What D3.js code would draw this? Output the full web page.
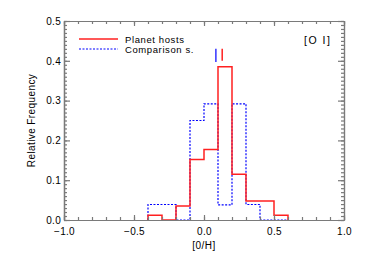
<!DOCTYPE html>
<html>
<head>
<meta charset="utf-8">
<script src="https://cdn.jsdelivr.net/npm/d3@7"></script>
<style>
  body { margin: 0; background: #fff; }
  text { font-family: "Liberation Sans", Arial, sans-serif; fill: #000; }
</style>
</head>
<body>
<div class="graph"></div>
<script>
// histogram bin edges ([O/H])
var binEdges = [-0.4, -0.3, -0.2, -0.1, 0.0, 0.1, 0.2, 0.3, 0.4, 0.5, 0.6];
// relative frequency per bin
var hostFreq = [0.012, 0.0, 0.035, 0.152, 0.177, 0.385, 0.115, 0.048, 0.048, 0.012];
var compFreq = [0.039, 0.039, 0.0, 0.25, 0.292, 0.038, 0.292, 0.039, 0.0, 0.0];
// mean markers
var hostMean = 0.13;
var compMean = 0.085;
var seriesNames = ["Planet hosts", "Comparison s."];
var xTicks = [-1.0, -0.5, 0.0, 0.5, 1.0];
var yTicks = [0.0, 0.1, 0.2, 0.3, 0.4, 0.5];

// Configuration
var hostColour = "#ff2020";
var compColour = "#0000ff";
var axisColour = "#7a7a7a";

var width = 365, height = 261;
var margin = {left: 64, right: 21, top: 21, bottom: 41};

var x = d3.scaleLinear().domain([-1, 1]).range([margin.left, width - margin.right]);
var y = d3.scaleLinear().domain([0, 0.5]).range([height - margin.bottom, margin.top]);

var svg = d3.select(".graph").append("svg")
    .attr("width", width)
    .attr("height", height);

// step line through the bins, dropping to zero at both ends
function stepPoints(freq) {
    var pts = [[binEdges[0], 0]];
    freq.forEach(function(f, i) {
        pts.push([binEdges[i], f]);
        pts.push([binEdges[i + 1], f]);
    });
    pts.push([binEdges[binEdges.length - 1], 0]);
    return pts;
}

var line = d3.line()
    .x(function(d) { return x(d[0]); })
    .y(function(d) { return y(d[1]); });

svg.append("path")
    .attr("d", line(stepPoints(compFreq)))
    .attr("fill", "none")
    .attr("stroke", compColour)
    .attr("stroke-width", 1.2)
    .attr("stroke-dasharray", "2,1.5");

svg.append("path")
    .attr("d", line(stepPoints(hostFreq)))
    .attr("fill", "none")
    .attr("stroke", hostColour)
    .attr("stroke-width", 1.5);

// mean markers
svg.append("line")
    .attr("x1", x(compMean)).attr("x2", x(compMean))
    .attr("y1", y(0.43)).attr("y2", y(0.397))
    .attr("stroke", compColour).attr("stroke-width", 1.2);
svg.append("line")
    .attr("x1", x(hostMean)).attr("x2", x(hostMean))
    .attr("y1", y(0.43)).attr("y2", y(0.4))
    .attr("stroke", hostColour).attr("stroke-width", 1.5);

// axes: bottom/top and left/right with minor ticks
var xMinor = d3.range(-10, 11).map(function(d) { return d / 10; });
var yMinor = d3.range(0, 51).map(function(d) { return d / 100; });

function axisGroup(axis, tx, ty) {
    var g = svg.append("g")
        .attr("transform", "translate(" + tx + "," + ty + ")")
        .call(axis);
    g.selectAll("path, line").attr("stroke", axisColour).attr("stroke-width", 1.2);
    g.selectAll("text").attr("fill", "#000").style("font-size", "10px")
        .style("letter-spacing", "0.3px")
        .style("font-family", "Liberation Sans, Arial, sans-serif");
    return g;
}

var y0 = y(0), yTop = y(0.5), xL = x(-1), xR = x(1);

axisGroup(d3.axisTop(x).tickValues(xMinor).tickSize(3).tickFormat("").tickSizeOuter(0), 0, y0);
axisGroup(d3.axisTop(x).tickValues(xTicks).tickSize(5).tickFormat(d3.format(".1f")).tickSizeOuter(0), 0, y0)
    .selectAll("text").attr("y", 15).text(function(d) { return d3.format(".1f")(d).replace("-", "\u2212"); });
axisGroup(d3.axisBottom(x).tickValues(xMinor).tickSize(3).tickFormat("").tickSizeOuter(0), 0, yTop);
axisGroup(d3.axisBottom(x).tickValues(xTicks).tickSize(5).tickFormat("").tickSizeOuter(0), 0, yTop);

axisGroup(d3.axisRight(y).tickValues(yMinor).tickSize(3).tickFormat("").tickSizeOuter(0), xL, 0);
axisGroup(d3.axisRight(y).tickValues(yTicks).tickSize(6).tickFormat("").tickSizeOuter(0), xL, 0);
axisGroup(d3.axisLeft(y).tickValues(yTicks).tickSize(0).tickPadding(3).tickFormat(d3.format(".1f")), xL, 0);
axisGroup(d3.axisLeft(y).tickValues(yMinor).tickSize(3).tickFormat("").tickSizeOuter(0), xR, 0);
axisGroup(d3.axisLeft(y).tickValues(yTicks).tickSize(6).tickFormat("").tickSizeOuter(0), xR, 0);

// axis titles
svg.append("text")
    .attr("x", (xL + xR) / 2).attr("y", 249)
    .attr("text-anchor", "middle")
    .style("font-size", "10px")
    .style("letter-spacing", "0.5px")
    .text("[0/H]");

svg.append("text")
    .attr("transform", "translate(35," + (y(0.25)) + ") rotate(-90)")
    .attr("text-anchor", "middle")
    .style("font-size", "10px")
    .style("letter-spacing", "0.4px")
    .text("Relative Frequency");

// legend
var legend = svg.append("g");
legend.append("line")
    .attr("x1", 79).attr("x2", 118).attr("y1", 39).attr("y2", 39)
    .attr("stroke", hostColour).attr("stroke-width", 1.5);
legend.append("line")
    .attr("x1", 79).attr("x2", 118).attr("y1", 49).attr("y2", 49)
    .attr("stroke", compColour).attr("stroke-width", 1.2)
    .attr("stroke-dasharray", "2,1.5");
legend.selectAll("text.leg")
    .data(seriesNames)
    .enter().append("text")
    .attr("x", 125)
    .attr("y", function(d, i) { return 42.5 + i * 10; })
    .style("font-size", "9.5px")
    .style("letter-spacing", "0.6px")
    .text(function(d) { return d; });

svg.append("text")
    .attr("x", 304).attr("y", 44)
    .style("font-size", "10.5px")
    .style("letter-spacing", "1.5px")
    .attr("xml:space", "preserve")
    .text("[O I]");
</script>
</body>
</html>
